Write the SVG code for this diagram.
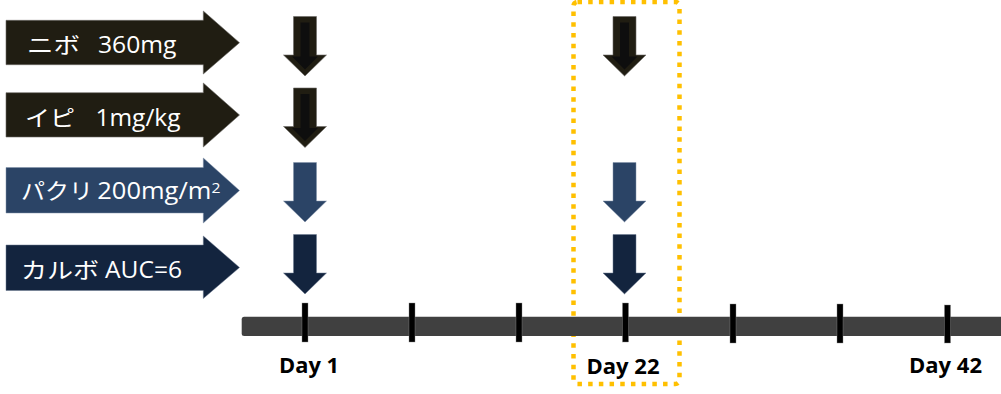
<svg xmlns="http://www.w3.org/2000/svg" width="1001" height="394" viewBox="0 0 1001 394">
<style>
.olive{fill:#201d12;stroke:#6b6a66;stroke-width:0.6}
.inner{fill:#0e0e0e}
.blue{fill:#2b4466;stroke:#8090a8;stroke-width:0.5}
.navy{fill:#13243e;stroke:#6a7890;stroke-width:0.5}
.kana{font-family:"Noto Sans CJK JP","Noto Sans",sans-serif;font-size:22px;fill:#fff}
.lat{font-family:"Open Sans","Noto Sans",sans-serif;font-size:23px;fill:#fff}
.day{font-family:"Open Sans","Liberation Sans",sans-serif;font-weight:700;font-size:21px;fill:#000}
.tick{fill:#000;stroke:#888;stroke-width:0.4}
</style>
<defs>
<path id="down" d="M-11.5 0 H11.5 V38.5 H21.5 L0 59.5 L-21.5 38.5 H-11.5 Z"/>
<path id="downIn" d="M-4.5 6 H4.5 V40 H13 L0 53 L-13 40 H-4.5 Z"/>
</defs>

<rect id="day22-highlight" x="573.5" y="2" width="106" height="382" rx="4" fill="none" stroke="#ffc000" stroke-width="4.5" stroke-dasharray="4.5 6.2"/>

<g id="label-nivo">
<path class="olive" d="M6 20.3 H203.3 V11 L239.5 42.7 L203.3 74 V64.7 H6 Z"/>
<text class="kana" x="27" y="53" textLength="53" lengthAdjust="spacingAndGlyphs">ニボ</text>
<text class="lat" x="98" y="53" textLength="78.5" lengthAdjust="spacingAndGlyphs">360mg</text>
</g>
<g id="label-ipi">
<path class="olive" d="M6 92.7 H203.3 V83 L239.5 115 L203.3 147 V137 H6 Z"/>
<text class="kana" x="25" y="125.5" textLength="50" lengthAdjust="spacingAndGlyphs">イピ</text>
<text class="lat" x="95.5" y="125.5" textLength="85" lengthAdjust="spacingAndGlyphs">1mg/kg</text>
</g>
<g id="label-pacli">
<path class="blue" d="M6 167.5 H203.3 V158 L239.5 190.5 L203.3 223 V213 H6 Z"/>
<text class="kana" x="21" y="198.5" textLength="72" lengthAdjust="spacingAndGlyphs">パクリ</text>
<text class="lat" x="97.3" y="198.5" textLength="114" lengthAdjust="spacingAndGlyphs">200mg/m</text>
<text class="lat" x="211.5" y="193.3" style="font-size:14px" textLength="9" lengthAdjust="spacingAndGlyphs">2</text>
</g>
<g id="label-carbo">
<path class="navy" d="M6 245 H203.3 V236 L239.5 267.5 L203.3 298.5 V290.5 H6 Z"/>
<text class="kana" x="21" y="277.5" textLength="78" lengthAdjust="spacingAndGlyphs">カルボ</text>
<text class="lat" x="105" y="277.5" textLength="77" lengthAdjust="spacingAndGlyphs">AUC=6</text>
</g>

<g id="timeline">
<rect x="241.7" y="316.7" width="770" height="19.3" rx="2.5" fill="#404040"/>
<rect class="tick" x="302" y="303" width="6" height="39"/>
<rect class="tick" x="409" y="303" width="6" height="39"/>
<rect class="tick" x="516" y="303" width="6" height="39"/>
<rect class="tick" x="622.5" y="303" width="6" height="39"/>
<rect class="tick" x="730" y="304" width="6" height="39"/>
<rect class="tick" x="837" y="304" width="6" height="39"/>
<rect class="tick" x="944.5" y="305" width="6" height="38"/>
</g>

<g id="day-labels">
<text class="day" x="279" y="372.7" textLength="60" lengthAdjust="spacingAndGlyphs">Day 1</text>
<text class="day" x="586.5" y="374.3" textLength="73" lengthAdjust="spacingAndGlyphs">Day 22</text>
<text class="day" x="909" y="373" textLength="73" lengthAdjust="spacingAndGlyphs">Day 42</text>
</g>

<g id="connectors">
<g id="dose-day1-nivo" transform="translate(305 16.5)"><use href="#down" class="olive"/><use href="#downIn" class="inner"/></g>
<g id="dose-day1-ipi" transform="translate(305 88)"><use href="#down" class="olive"/><use href="#downIn" class="inner"/></g>
<g id="dose-day1-pacli" transform="translate(305 162.5)"><use href="#down" class="blue"/></g>
<g id="dose-day1-carbo" transform="translate(305 234.5)"><use href="#down" class="navy"/></g>
<g id="dose-day22-nivo" transform="translate(624.5 16.5)"><use href="#down" class="olive"/><use href="#downIn" class="inner"/></g>
<g id="dose-day22-pacli" transform="translate(624.5 162.5)"><use href="#down" class="blue"/></g>
<g id="dose-day22-carbo" transform="translate(624.5 234.5)"><use href="#down" class="navy"/></g>
</g>
</svg>
